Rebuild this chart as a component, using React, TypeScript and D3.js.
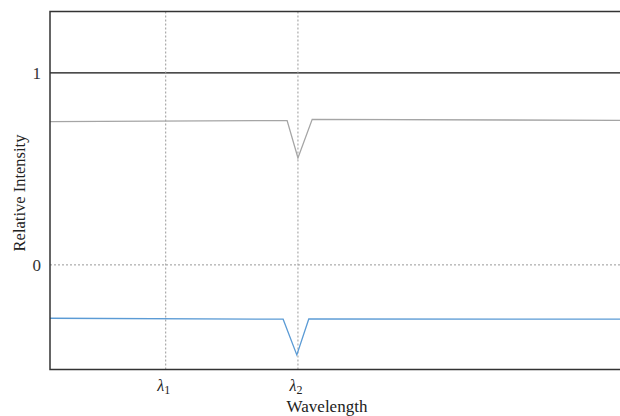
import React, { useEffect, useRef } from 'react';
import * as d3 from 'd3';

// wavelength positions (arbitrary units) and intensity readings
const referenceWave = [0, 4.16, 4.35, 4.6, 10];
const referenceValue = [0.746, 0.752, 0.557, 0.758, 0.753];
const sampleWave = [0, 4.09, 4.33, 4.54, 10];
const sampleValue = [-0.278, -0.283, -0.469, -0.282, -0.283];
const markerWave = [2.03, 4.35];
const markerLabels = ['1', '2'];
const yTicks = [0, 1];

const App = () => {
  const svgRef = useRef<SVGSVGElement>(null);

  useEffect(() => {
    const width = 620;
    const height = 416;
    const left = 50;
    const top = 11.5;
    const bottom = 369.5;

    const svg = d3.select(svgRef.current);
    svg.selectAll('*').remove();
    svg.attr('width', width).attr('height', height);

    const x = d3.scaleLinear().domain([0, 10]).range([left, width]);
    const y = d3.scaleLinear().domain([-0.545, 1.32]).range([bottom, top]);

    const font = '"Liberation Serif", "Times New Roman", serif';

    // y = 0 dotted reference
    svg.append('line')
      .attr('x1', left).attr('x2', width)
      .attr('y1', y(0)).attr('y2', y(0))
      .attr('stroke', '#999').attr('stroke-width', 1)
      .attr('stroke-dasharray', '2,2');

    // y = 1 solid reference
    svg.append('line')
      .attr('x1', left).attr('x2', width)
      .attr('y1', y(1)).attr('y2', y(1))
      .attr('stroke', '#111').attr('stroke-width', 1.3);

    // wavelength markers
    svg.selectAll('.marker')
      .data(markerWave)
      .enter().append('line')
      .attr('class', 'marker')
      .attr('x1', d => x(d)).attr('x2', d => x(d))
      .attr('y1', top).attr('y2', bottom)
      .attr('stroke', '#999').attr('stroke-width', 1)
      .attr('stroke-dasharray', '2,2');

    const line = d3.line<[number, number]>()
      .x(d => x(d[0]))
      .y(d => y(d[1]));

    const refPts = referenceWave.map((w, i) => [w, referenceValue[i]] as [number, number]);
    const samPts = sampleWave.map((w, i) => [w, sampleValue[i]] as [number, number]);

    svg.append('path')
      .attr('d', line(refPts))
      .attr('fill', 'none')
      .attr('stroke', '#a5a5a5')
      .attr('stroke-width', 1.3);

    svg.append('path')
      .attr('d', line(samPts))
      .attr('fill', 'none')
      .attr('stroke', '#5b9bd5')
      .attr('stroke-width', 1.3);

    // frame: top, left, bottom
    svg.append('path')
      .attr('d', `M${width},${top}H${left}V${bottom}H${width}`)
      .attr('fill', 'none')
      .attr('stroke', '#333')
      .attr('stroke-width', 1.5);

    // y tick labels
    svg.selectAll('.ytick')
      .data(yTicks)
      .enter().append('text')
      .attr('class', 'ytick')
      .attr('x', left - 9)
      .attr('y', d => y(d))
      .attr('dy', '0.35em')
      .attr('text-anchor', 'end')
      .style('font-family', font)
      .style('font-size', '17px')
      .attr('fill', '#333')
      .text(d => d);

    // lambda labels
    const lab = svg.selectAll('.xlab')
      .data(markerWave)
      .enter().append('text')
      .attr('class', 'xlab')
      .attr('x', d => x(d) - 2)
      .attr('y', 391)
      .attr('text-anchor', 'middle')
      .style('font-family', font)
      .style('font-size', '16px')
      .attr('fill', '#222');
    lab.append('tspan').style('font-style', 'italic').text('λ');
    lab.append('tspan')
      .attr('dy', 3)
      .style('font-size', '12px')
      .text((d, i) => markerLabels[i]);

    // axis titles
    svg.append('text')
      .attr('x', 327)
      .attr('y', 412)
      .attr('text-anchor', 'middle')
      .style('font-family', font)
      .style('font-size', '17px')
      .attr('fill', '#222')
      .text('Wavelength');

    svg.append('text')
      .attr('transform', `translate(24.5,193) rotate(-90)`)
      .attr('text-anchor', 'middle')
      .style('font-family', font)
      .style('font-size', '16.5px')
      .attr('fill', '#222')
      .text('Relative Intensity');
  }, []);

  return (
    <svg
      ref={svgRef}
      style={{ position: 'absolute', left: 0, top: 0, display: 'block' }}
    ></svg>
  );
};

export default App;
